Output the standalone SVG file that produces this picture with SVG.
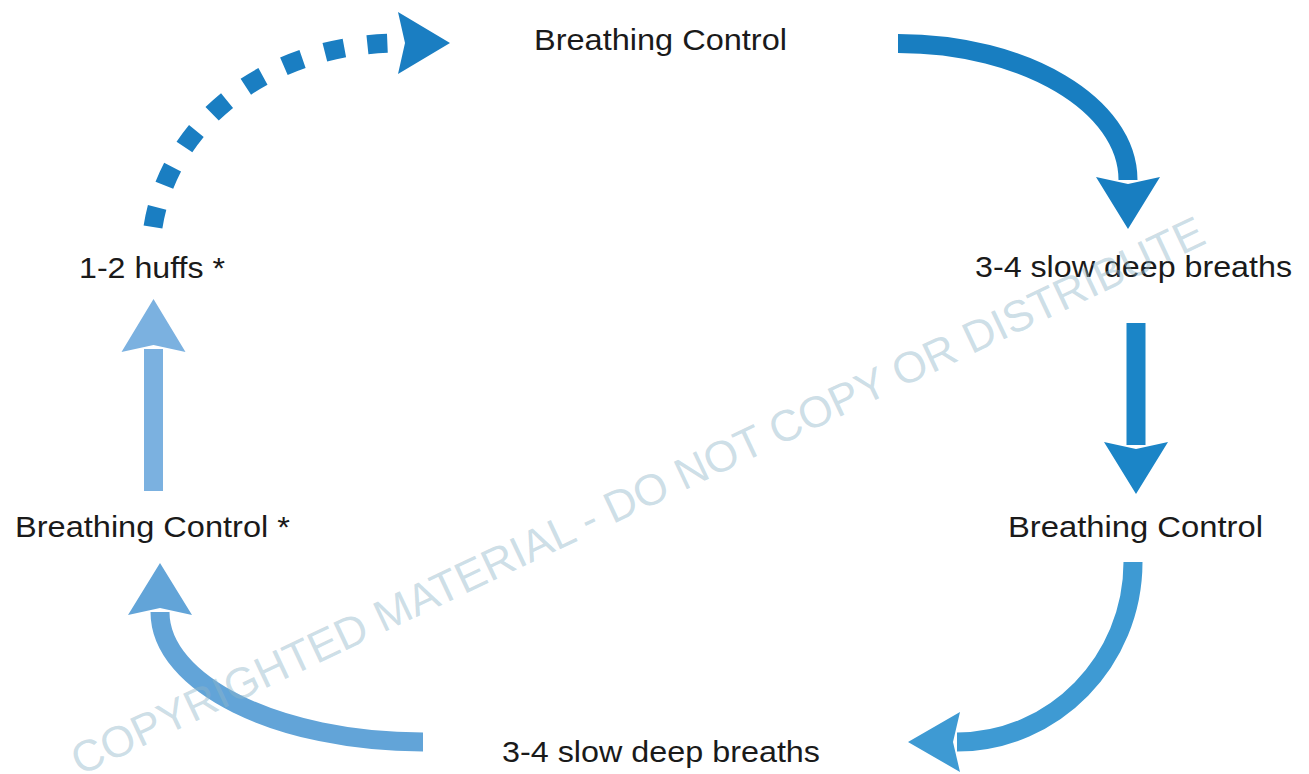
<svg xmlns="http://www.w3.org/2000/svg" width="1309" height="774" viewBox="0 0 1309 774">
<style>
.lbl{font-family:"Liberation Sans",Arial,sans-serif;font-size:29px;fill:#1a1a1a;}
.wm{font-family:"Liberation Sans",Arial,sans-serif;font-size:44px;fill:#8fb6ca;fill-opacity:0.45;}
.shaft{fill:none;stroke-width:19;stroke-linecap:butt;}
</style>
<defs>
<marker id="h1" markerUnits="userSpaceOnUse" markerWidth="60" markerHeight="70" viewBox="-2 -35 60 70" refX="3" refY="0" orient="auto"><path d="M0,-32 L52,0 L0,32 L7,0 Z" fill="#187ec1"/></marker>
<marker id="h2" markerUnits="userSpaceOnUse" markerWidth="60" markerHeight="70" viewBox="-2 -35 60 70" refX="3" refY="0" orient="auto"><path d="M0,-32 L52,0 L0,32 L7,0 Z" fill="#1b85c7"/></marker>
<marker id="h3" markerUnits="userSpaceOnUse" markerWidth="60" markerHeight="70" viewBox="-2 -35 60 70" refX="3" refY="0" orient="auto"><path d="M0,-30 L52,0 L0,30 L7,0 Z" fill="#3e9ad3"/></marker>
<marker id="h4" markerUnits="userSpaceOnUse" markerWidth="60" markerHeight="70" viewBox="-2 -35 60 70" refX="3" refY="0" orient="auto"><path d="M0,-32 L52,0 L0,32 L7,0 Z" fill="#62a4d8"/></marker>
<marker id="h5" markerUnits="userSpaceOnUse" markerWidth="60" markerHeight="70" viewBox="-2 -35 60 70" refX="3" refY="0" orient="auto"><path d="M0,-32 L53,0 L0,32 L7,0 Z" fill="#7bb1e0"/></marker>
<marker id="h6" markerUnits="userSpaceOnUse" markerWidth="60" markerHeight="70" viewBox="-2 -35 60 70" refX="3" refY="0" orient="auto"><path d="M0,-31 L52,0 L0,31 L7,0 Z" fill="#1a7ec2"/></marker>
</defs>
<rect width="1309" height="774" fill="#ffffff"/>
<g id="connectors">
<path class="shaft" d="M898,43.5 C1025,43.5 1128,105 1128,180" stroke="#187ec1" marker-end="url(#h1)"/>
<path class="shaft" d="M1136,323 L1136,445" stroke="#1b85c7" marker-end="url(#h2)"/>
<path class="shaft" d="M1133,562 C1133,661 1054,742 957,742" stroke="#3e9ad3" marker-end="url(#h3)"/>
<path class="shaft" d="M423,742 C278,742 160,684 160,612" stroke="#62a4d8" marker-end="url(#h4)"/>
<path class="shaft" d="M153.5,491 L153.5,349" stroke="#7bb1e0" marker-end="url(#h5)"/>
<path class="shaft" d="M153,227 C170,120 270,43 401,43" stroke="#1a7ec2" stroke-dasharray="20 23.3" marker-end="url(#h6)"/>
</g>
<g id="n-top"><text class="lbl" x="534" y="50" textLength="253" lengthAdjust="spacingAndGlyphs">Breathing Control</text></g>
<g id="n-right-breaths"><text class="lbl" x="975" y="277" textLength="317" lengthAdjust="spacingAndGlyphs">3-4 slow deep breaths</text></g>
<g id="n-right-control"><text class="lbl" x="1008" y="537" textLength="255" lengthAdjust="spacingAndGlyphs">Breathing Control</text></g>
<g id="n-bottom"><text class="lbl" x="502" y="762" textLength="318" lengthAdjust="spacingAndGlyphs">3-4 slow deep breaths</text></g>
<g id="n-left-control"><text class="lbl" x="15" y="537" textLength="275" lengthAdjust="spacingAndGlyphs">Breathing Control *</text></g>
<g id="n-huffs"><text class="lbl" x="79" y="278" textLength="146" lengthAdjust="spacingAndGlyphs">1-2 huffs *</text></g>
<g id="watermark"><text class="wm" transform="translate(80,776) rotate(-25.3)">COPYRIGHTED MATERIAL - DO NOT COPY OR DISTRIBUTE</text></g>
</svg>
